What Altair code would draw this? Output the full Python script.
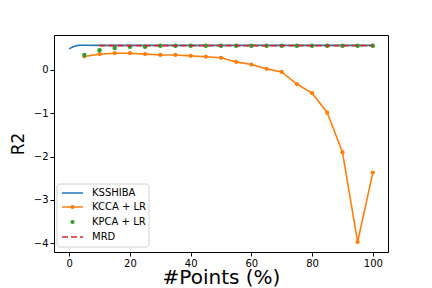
import altair as alt
import pandas as pd

# ---- data ----
ks_x = [0, 1, 2, 3, 4, 5, 10, 20, 30, 40, 50, 60, 70, 80, 90, 100]
ks_y = [0.48, 0.52, 0.545, 0.56, 0.565, 0.565, 0.562, 0.56, 0.56, 0.56, 0.56, 0.56, 0.56, 0.56, 0.56, 0.56]

pts_x = [5, 10, 15, 20, 25, 30, 35, 40, 45, 50, 55, 60, 65, 70, 75, 80, 85, 90, 95, 100]
kcca_y = [0.305, 0.36, 0.38, 0.38, 0.36, 0.34, 0.34, 0.32, 0.30, 0.275, 0.18, 0.12, 0.02, -0.05,
          -0.33, -0.54, -0.99, -1.90, -3.97, -2.37]
kpca_y = [0.34, 0.45, 0.50, 0.53, 0.53, 0.55, 0.55, 0.55, 0.55, 0.55, 0.55, 0.55, 0.55, 0.55,
          0.55, 0.55, 0.55, 0.55, 0.55, 0.55]

mrd_x = [10, 100]
mrd_y = [0.555, 0.555]

series = ["KSSHIBA", "KCCA + LR", "KPCA + LR", "MRD"]
colors = ["#1f77b4", "#ff7f0e", "#2ca02c", "#d62728"]

ks = pd.DataFrame({"x": ks_x, "y": ks_y})
kcca = pd.DataFrame({"x": pts_x, "y": kcca_y})
kpca = pd.DataFrame({"x": pts_x, "y": kpca_y})
mrd = pd.DataFrame({"x": mrd_x, "y": mrd_y})

W, H = 334, 217
xs = alt.Scale(domain=[-5, 105], nice=False, zero=False)
ys = alt.Scale(domain=[-4.2, 0.8], nice=False, zero=False)

xaxis = alt.Axis(title="#Points (%)", values=[0, 20, 40, 60, 80, 100], grid=False,
                 titleFontSize=20, titleFontWeight="normal",
                 titleY=31, titleBaseline="alphabetic",
                 labelFontSize=10, tickSize=4)
yaxis = alt.Axis(title="R2", values=[0, -1, -2, -3, -4], grid=False,
                 titleFontSize=17, titleFontWeight="normal",
                 titleX=-36, titleBaseline="middle",
                 labelFontSize=10, tickSize=4)

X = alt.X("x:Q", scale=xs, axis=xaxis)
Y = alt.Y("y:Q", scale=ys, axis=yaxis)

l_ks = alt.Chart(ks).mark_line(color=colors[0], strokeWidth=1.6).encode(x=X, y=Y)
l_kcca = alt.Chart(kcca).mark_line(color=colors[1], strokeWidth=1.6).encode(x=X, y=Y)
p_kcca = alt.Chart(kcca).mark_circle(color=colors[1], size=18, opacity=1).encode(x=X, y=Y)
p_kpca = alt.Chart(kpca).mark_circle(color=colors[2], size=20, opacity=1).encode(x=X, y=Y)
l_mrd = alt.Chart(mrd).mark_line(color=colors[3], strokeWidth=1.6, strokeDash=[6, 3]).encode(x=X, y=Y)

# ---- legend (drawn manually) ----
leg_box = alt.Chart(pd.DataFrame({"a": [0]})).mark_rect(
    fill="white", stroke="#cccccc", strokeWidth=1, cornerRadius=3, opacity=0.9
).encode(x=alt.value(3), x2=alt.value(95), y=alt.value(149), y2=alt.value(212))

rows = [158, 172, 187, 202]
legend_layers = [leg_box]
for i, name in enumerate(series):
    yy = rows[i]
    dfi = pd.DataFrame({"label": [name]})
    if i in (0, 1, 3):
        rule = alt.Chart(dfi).mark_rule(
            color=colors[i], strokeWidth=1.6, strokeDash=[6, 3] if i == 3 else [1, 0]
        ).encode(x=alt.value(8), x2=alt.value(29), y=alt.value(yy))
        legend_layers.append(rule)
    if i in (1, 2):
        dot = alt.Chart(dfi).mark_circle(color=colors[i], size=18, opacity=1).encode(
            x=alt.value(18.5), y=alt.value(yy))
        legend_layers.append(dot)
    txt = alt.Chart(dfi).mark_text(align="left", baseline="middle", fontSize=10,
                                   font="DejaVu Sans", color="black").encode(
        x=alt.value(38), y=alt.value(yy), text="label:N")
    legend_layers.append(txt)

chart = alt.layer(l_ks, l_kcca, p_kcca, p_kpca, l_mrd, *legend_layers).properties(
    width=W, height=H,
    autosize=alt.AutoSizeParams(type="none"),
    padding={"left": 46, "top": 27, "right": 36, "bottom": 36},
).configure_view(stroke="black", strokeWidth=1).configure_axis(
    domainColor="black", tickColor="black", labelColor="black", titleColor="black",
    labelFont="DejaVu Sans", titleFont="DejaVu Sans"
)

chart.save("out.html", embed_options={"renderer": "svg", "actions": False})
